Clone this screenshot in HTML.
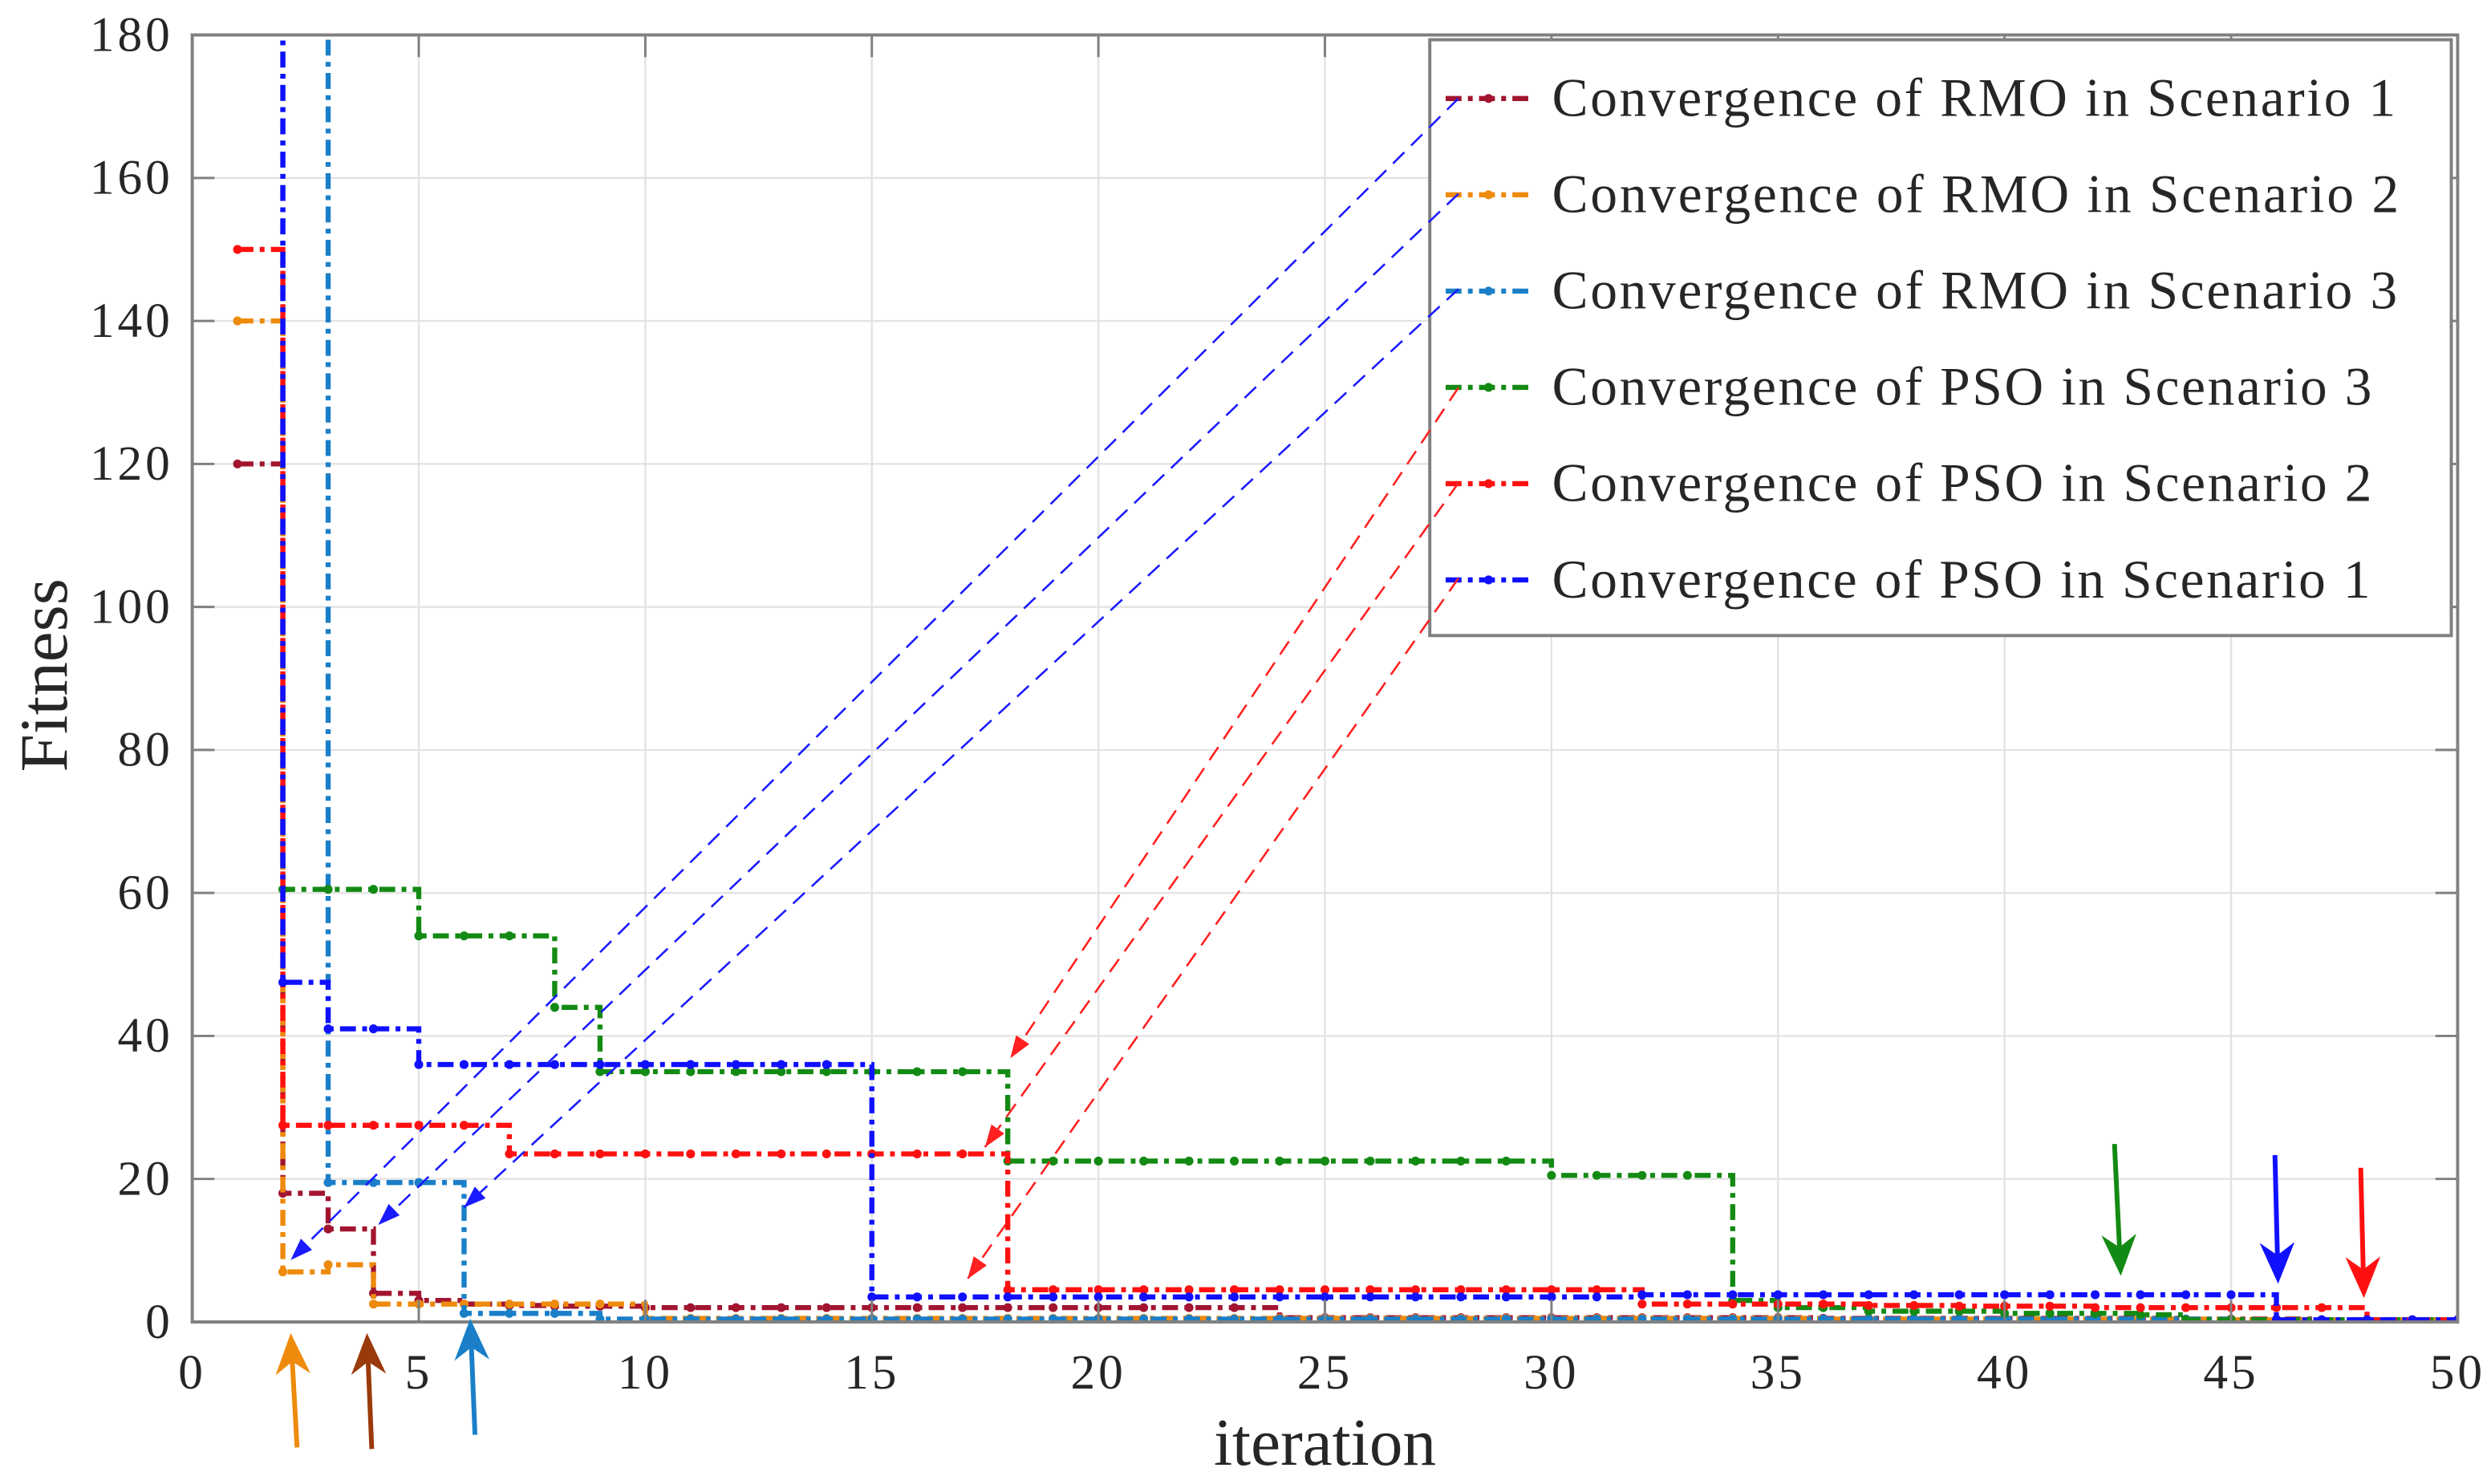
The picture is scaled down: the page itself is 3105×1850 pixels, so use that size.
<!DOCTYPE html>
<html><head><meta charset="utf-8"><style>
html,body{margin:0;padding:0;background:#fff;width:3105px;height:1850px;overflow:hidden}
svg{display:block}
text{font-family:"Liberation Serif",serif;fill:#262626}
</style></head><body>
<svg id="chart" width="3105" height="1850" viewBox="0 0 1568 934" preserveAspectRatio="none" xmlns="http://www.w3.org/2000/svg">
<g id="grid"></g>
<g id="series"></g>
<g id="axes"></g>
<g id="legend"></g>
<g id="annot"></g>
</svg>
<script>
const xTicks=[0,5,10,15,20,25,30,35,40,45,50];
const yTicks=[0,20,40,60,80,100,120,140,160,180];
const iterations=[1,2,3,4,5,6,7,8,9,10,11,12,13,14,15,16,17,18,19,20,21,22,23,24,25,26,27,28,29,30,31,32,33,34,35,36,37,38,39,40,41,42,43,44,45,46,47,48,49,50];
const rmo1=[120,18,13,4,3,2.5,2.3,2.2,2.2,2,2,2,2,2,2,2,2,2,2,2,2,2,2,0.6,0.6,0.6,0.6,0.6,0.6,0.6,0.6,0.6,0.6,0.6,0.6,0.5,0.5,0.5,0.5,0.5,0.5,0.5,0.5,0.4,0.4,0.4,0.3,0.3,0.3,0.3];
const rmo2=[140,7,8,2.5,2.5,2.5,2.5,2.5,2.5,0.5,0.5,0.5,0.5,0.5,0.5,0.5,0.5,0.5,0.5,0.5,0.5,0.5,0.5,0.5,0.5,0.5,0.5,0.5,0.5,0.5,0.5,0.5,0.5,0.5,0.5,0.4,0.4,0.4,0.4,0.4,0.4,0.4,0.4,0.4,0.3,0.3,0.3,0.3,0.3,0.3];
const rmo3=[260,260,19.5,19.5,19.5,1.2,1.2,1.2,0.4,0.4,0.4,0.4,0.4,0.4,0.4,0.4,0.4,0.4,0.4,0.4,0.4,0.4,0.4,0.4,0.4,0.4,0.4,0.4,0.4,0.4,0.4,0.4,0.4,0.4,0.4,0.4,0.4,0.4,0.4,0.4,0.4,0.4,0.4,0.4,0.3,0.3,0.3,0.3,0.3,0.3];
const pso3=[260,60.5,60.5,60.5,54,54,54,44,35,35,35,35,35,35,35,35,35,22.5,22.5,22.5,22.5,22.5,22.5,22.5,22.5,22.5,22.5,22.5,22.5,20.5,20.5,20.5,20.5,3,2,2,1.5,1.5,1.5,1.2,1.2,1.2,1,0.3,0.3,0.3,0.3,0.3,0.3,0.3];
const pso2=[150,27.5,27.5,27.5,27.5,27.5,23.5,23.5,23.5,23.5,23.5,23.5,23.5,23.5,23.5,23.5,23.5,4.5,4.5,4.5,4.5,4.5,4.5,4.5,4.5,4.5,4.5,4.5,4.5,4.5,4.5,2.5,2.5,2.5,2.5,2.5,2.3,2.3,2.2,2.2,2.2,2,2,2,2,2,2,0.3,0.3,0.3];
const pso1=[260,47.5,41,41,36,36,36,36,36,36,36,36,36,36,3.5,3.5,3.5,3.5,3.5,3.5,3.5,3.5,3.5,3.5,3.5,3.5,3.5,3.5,3.5,3.5,3.5,3.8,3.8,3.8,3.8,3.8,3.8,3.8,3.8,3.8,3.8,3.8,3.8,3.8,3.8,0.3,0.3,0.3,0.3,0.3];
const seriesNames=["rmo-scenario-1","rmo-scenario-2","rmo-scenario-3","pso-scenario-3","pso-scenario-2","pso-scenario-1"];
const seriesLabels=["Convergence of RMO in Scenario 1","Convergence of RMO in Scenario 2","Convergence of RMO in Scenario 3","Convergence of PSO in Scenario 3","Convergence of PSO in Scenario 2","Convergence of PSO in Scenario 1"];
const seriesValues=[rmo1,rmo2,rmo3,pso3,pso2,pso1];
const seriesColors=["#A2142F","#EE8A0C","#1A7FC8","#138A13","#FF1010","#1010FF"];

const NS="http://www.w3.org/2000/svg";
const L=121,R=1547,T=22,B=832;
const X=v=>L+(v-0)/(50-0)*(R-L);
const Y=v=>B-(v-0)/(180-0)*(B-T);
function mk(tag,attrs,parent){const e=document.createElementNS(NS,tag);for(const k in attrs)e.setAttribute(k,attrs[k]);parent.appendChild(e);return e;}
const grid=document.getElementById('grid'),axes=document.getElementById('axes'),ser=document.getElementById('series'),ann=document.getElementById('annot'),leg=document.getElementById('legend');
const defs=mk('defs',{},document.getElementById('chart'));
const cp=mk('clipPath',{id:'clip'},defs);mk('rect',{x:L,y:T,width:R-L,height:B-T},cp);

xTicks.forEach(t=>{
  const g=mk('line',{x1:X(t),x2:X(t),y1:T,y2:B,stroke:'#e3e3e3','stroke-width':1.2},grid);
  
  mk('line',{x1:X(t),x2:X(t),y1:B,y2:B-14,stroke:'#808080','stroke-width':1.5},axes);
  mk('line',{x1:X(t),x2:X(t),y1:T,y2:T+14,stroke:'#808080','stroke-width':1.5},axes);
  const tx=mk('text',{x:X(t),y:B+42,'font-size':31,'letter-spacing':2,'text-anchor':'middle'},axes);tx.textContent=t;
  
});
yTicks.forEach(t=>{
  const g=mk('line',{x1:L,x2:R,y1:Y(t),y2:Y(t),stroke:'#e3e3e3','stroke-width':1.2},grid);
  
  mk('line',{x1:L,x2:L+14,y1:Y(t),y2:Y(t),stroke:'#808080','stroke-width':1.5},axes);
  mk('line',{x1:R,x2:R-14,y1:Y(t),y2:Y(t),stroke:'#808080','stroke-width':1.5},axes);
  const tx=mk('text',{x:L-12,y:Y(t)+10,'font-size':31,'letter-spacing':2,'text-anchor':'end'},axes);tx.textContent=t;
  
});
const box=mk('rect',{x:L,y:T,width:R-L,height:B-T,fill:'none',stroke:'#808080','stroke-width':2},axes);

const xl=mk('text',{x:834,y:922,'font-size':42,'text-anchor':'middle'},axes);xl.textContent='iteration';

const yl=mk('text',{x:0,y:0,'font-size':43,'text-anchor':'middle',transform:'translate(42,425) rotate(-90)'},axes);yl.textContent='Fitness';


seriesValues.forEach((vals,si)=>{
  const g=mk('g',{'clip-path':'url(#clip)'},ser);
  
  let d='';
  for(let i=0;i<vals.length;i++){
    const x0=X(iterations[i]),y0=Y(vals[i]);
    d+=(i===0?'M':'L')+x0+','+y0+' ';
    if(i<vals.length-1)d+='L'+X(iterations[i+1])+','+y0+' ';
  }
  const p=mk('path',{d:d,fill:'none',stroke:seriesColors[si],'stroke-width':3.2,'stroke-dasharray':'10,4,3,4'},g);
  
  vals.forEach((v,i)=>{
    const c=mk('circle',{cx:X(iterations[i]),cy:Y(v),r:2.8,fill:seriesColors[si]},g);
    
  });
});

// legend
const lb=mk('rect',{x:900,y:25,width:643,height:375,fill:'#fff',stroke:'#808080','stroke-width':2},leg);

const legendWidths=[531,533,532,516,516,515];
seriesLabels.forEach((lab,i)=>{
  const y=62+i*60.6;
  const g=mk('g',{},leg);
  
  mk('line',{x1:910,x2:965,y1:y,y2:y,stroke:seriesColors[i],'stroke-width':3.2,'stroke-dasharray':'10,4,3,4'},g);
  mk('circle',{cx:937,cy:y,r:2.8,fill:seriesColors[i]},g);
  const t=mk('text',{x:977,y:y+11,'font-size':34,textLength:legendWidths[i],lengthAdjust:'spacing'},g);t.textContent=lab;
});

function dashArrow(x1,y1,x2,y2,col){
  const g=mk('g',{},ann);
  
  mk('line',{x1,y1,x2,y2,stroke:col,'stroke-width':1.3,'stroke-dasharray':'10,6'},g);
  const a=Math.atan2(y2-y1,x2-x1),s=14,w=5;
  const bx=x2-s*Math.cos(a),by=y2-s*Math.sin(a);
  mk('polygon',{points:`${x2},${y2} ${bx+w*Math.sin(a)},${by-w*Math.cos(a)} ${bx-w*Math.sin(a)},${by+w*Math.cos(a)}`,fill:col},g);
}
dashArrow(918,62,183,793,'#1a1aff');
dashArrow(918,122,238,771,'#1a1aff');
dashArrow(918,182,292,760,'#1a1aff');
dashArrow(918,244,636,666,'#ff2020');
dashArrow(918,304,620,722,'#ff2020');
dashArrow(918,364,609,805,'#ff2020');
function bigArrow(x1,y1,x2,y2,col,name){
  const g=mk('g',{},ann);
  
  const a=Math.atan2(y2-y1,x2-x1),s=26,w=11;
  const bx=x2-s*Math.cos(a),by=y2-s*Math.sin(a);
  mk('line',{x1,y1,x2:x2-10*Math.cos(a),y2:y2-10*Math.sin(a),stroke:col,'stroke-width':3},g);
  mk('polygon',{points:`${x2},${y2} ${bx+w*Math.sin(a)},${by-w*Math.cos(a)} ${x2-18*Math.cos(a)},${y2-18*Math.sin(a)} ${bx-w*Math.sin(a)},${by+w*Math.cos(a)}`,fill:col},g);
}
bigArrow(187,911,183,839,'#EE8A0C','orange-arrow');
bigArrow(234,912,231,839,'#9A3A0A','brown-arrow');
bigArrow(299,903,296,830,'#1A7FC8','light-blue-arrow');
bigArrow(1331,720,1335,803,'#138A13','green-arrow');
bigArrow(1432,727,1434,808,'#1010FF','blue-arrow');
bigArrow(1486,735,1488,817,'#FF1010','red-arrow');
</script>
</body></html>
